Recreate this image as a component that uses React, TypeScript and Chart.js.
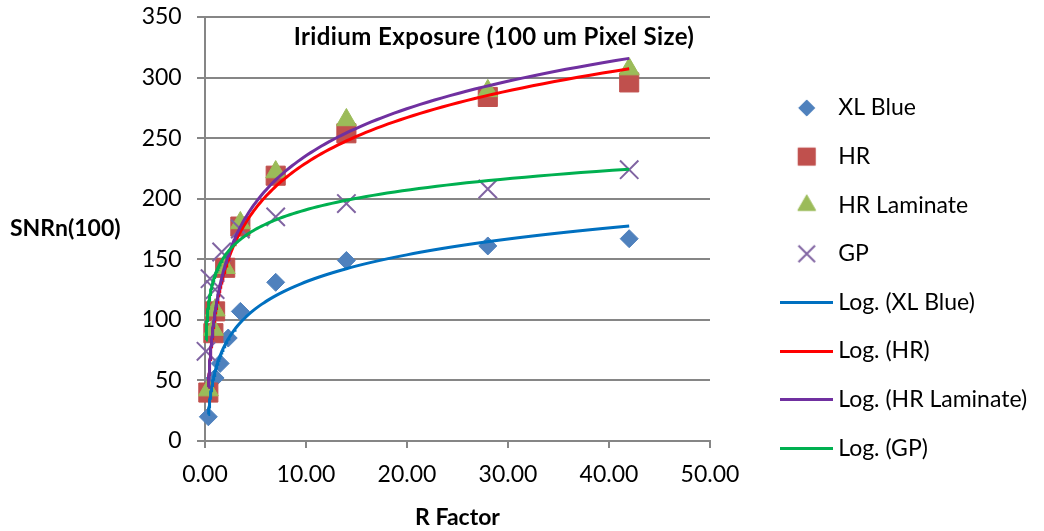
import React, { useEffect, useRef } from "react";
import { Chart, registerables } from "chart.js";
import { drawPoint } from "chart.js/helpers";

Chart.register(...registerables);

// ---------- data ----------
const seriesNames = ["XL Blue", "HR", "HR Laminate", "GP"];
const trendNames = ["Log. (XL Blue)", "Log. (HR)", "Log. (HR Laminate)", "Log. (GP)"];

const xlBlueX = [0.33, 1.0, 1.5, 2.3, 3.5, 7, 14, 28, 42];
const xlBlueY = [20, 52, 64, 85, 107, 131, 149, 161, 167];

const hrX = [0.33, 0.83, 1.0, 2.0, 3.5, 7, 14, 28, 42];
const hrY = [40, 89, 107, 143, 177, 219, 254, 284, 296];

const hrLamX = [0.33, 0.83, 1.0, 2.0, 3.5, 7, 14, 28, 42];
const hrLamY = [42, 92, 108, 143, 180, 222, 265, 289, 307];

const gpX = [0.1, 0.5, 1.0, 1.65, 3.5, 7, 14, 28, 42];
const gpY = [74, 134, 125, 156, 175, 185, 196, 208, 224];

const xTickMin = 0;
const xTickMax = 50;
const xTickStep = 10;
const yTickMin = 0;
const yTickMax = 350;
const yTickStep = 50;

const chartTitle = "Iridium Exposure (100 um Pixel Size)";
const yAxisTitle = "SNRn(100)";
const xAxisTitle = "R Factor";

// ---------- styles ----------
const markerColors = ["#4F81BD", "#C0504D", "#9BBB59", "#8064A2"];
const trendColors = ["#0070C0", "#FF0000", "#7030A0", "#00B050"];
const markerStyles = ["rectRot", "rect", "triangle", "crossRot"];
const markerRadius = [9, 13.5, 11.5, 13];
const markerBorder = [1, 1, 1, 2];
const FONT = "Lato";
const LEGEND_FONT_SIZE = 23;
const LEGEND_PAD = 25.6;
const LEGEND_BOX = 40;

// log regression (Excel "Logarithmic" trendline): y = a ln(x) + b
function logFit(xs: number[], ys: number[]) {
  const lx = xs.map((v) => Math.log(v));
  const n = xs.length;
  const mx = lx.reduce((s, v) => s + v, 0) / n;
  const my = ys.reduce((s, v) => s + v, 0) / n;
  let sxy = 0;
  let sxx = 0;
  for (let i = 0; i < n; i++) {
    sxy += (lx[i] - mx) * (ys[i] - my);
    sxx += (lx[i] - mx) * (lx[i] - mx);
  }
  const a = sxy / sxx;
  return { a, b: my - a * mx };
}

function trendCurve(xs: number[], ys: number[]) {
  const { a, b } = logFit(xs, ys);
  const lo = Math.log(Math.min(...xs));
  const hi = Math.log(Math.max(...xs));
  const pts: { x: number; y: number }[] = [];
  const steps = 150;
  for (let i = 0; i <= steps; i++) {
    const x = Math.exp(lo + ((hi - lo) * i) / steps);
    pts.push({ x, y: a * Math.log(x) + b });
  }
  return pts;
}

function toPoints(xs: number[], ys: number[]) {
  return xs.map((x, i) => ({ x, y: ys[i] }));
}

function markerIcon(i: number) {
  const c = document.createElement("canvas");
  c.width = 32;
  c.height = 32;
  const ctx = c.getContext("2d")!;
  ctx.fillStyle = markerColors[i];
  ctx.strokeStyle = markerColors[i];
  ctx.lineWidth = markerBorder[i];
  drawPoint(
    ctx,
    { pointStyle: markerStyles[i], radius: markerRadius[i] * 0.9, rotation: 0, borderWidth: markerBorder[i] } as any,
    16,
    16
  );
  return c;
}

function lineIcon(color: string) {
  const c = document.createElement("canvas");
  c.width = 53;
  c.height = 3;
  const ctx = c.getContext("2d")!;
  ctx.fillStyle = color;
  ctx.fillRect(0, 0, 53, 3);
  return c;
}

const textPlugin = {
  id: "extraText",
  afterDraw(chart: any) {
    const { ctx, chartArea } = chart;
    ctx.save();
    ctx.fillStyle = "#000";
    ctx.font = `bold 23px ${FONT}`;
    ctx.textBaseline = "middle";
    ctx.textAlign = "left";
    ctx.fillText(yAxisTitle, 10, (chartArea.top + chartArea.bottom) / 2);
    ctx.font = `bold 24px ${FONT}`;
    (ctx as any).letterSpacing = "0.4px";
    ctx.textAlign = "center";
    ctx.fillText(chartTitle, chartArea.left + 289, chartArea.top + 20);
    ctx.restore();
  },
};

export default function App() {
  const ref = useRef<HTMLCanvasElement | null>(null);

  useEffect(() => {
    document.body.style.margin = "0";
    const canvas = ref.current!;
    Chart.defaults.font.family = FONT;

    const mctx = document.createElement("canvas").getContext("2d")!;
    mctx.font = `${LEGEND_FONT_SIZE}px ${FONT}`;
    const maxText = Math.max(...[...seriesNames, ...trendNames].map((t) => mctx.measureText(t).width));
    const legendWidth = LEGEND_PAD + LEGEND_BOX + LEGEND_FONT_SIZE / 2 + maxText + 10;
    const legendLeft = 786.7 - LEGEND_PAD;
    const plotRight = 710;
    const padRight = 1044 - legendLeft - legendWidth;

    const xsList = [xlBlueX, hrX, hrLamX, gpX];
    const ysList = [xlBlueY, hrY, hrLamY, gpY];

    const icons: HTMLCanvasElement[] = [
      ...seriesNames.map((_, i) => markerIcon(i)),
      ...trendColors.map((c) => lineIcon(c)),
    ];

    const markerSets = seriesNames.map((name, i) => ({
      label: name,
      data: toPoints(xsList[i], ysList[i]),
      showLine: false,
      pointStyle: markerStyles[i],
      pointRadius: markerRadius[i],
      pointHoverRadius: markerRadius[i],
      pointBackgroundColor: markerColors[i],
      pointBorderColor: markerColors[i],
      pointBorderWidth: markerBorder[i],
      backgroundColor: markerColors[i],
      borderColor: markerColors[i],
      clip: false as any,
      order: 10 - i,
      xAxisID: "x",
      yAxisID: "y",
    }));

    const trendSets = trendNames.map((name, i) => ({
      label: name,
      data: trendCurve(xsList[i], ysList[i]),
      showLine: true,
      pointRadius: 0,
      pointHoverRadius: 0,
      borderColor: trendColors[i],
      backgroundColor: trendColors[i],
      borderWidth: 3,
      tension: 0,
      fill: false,
      clip: false as any,
      order: 5 - i,
      xAxisID: "x",
      yAxisID: "y",
    }));

    const chart = new Chart(canvas, {
      type: "scatter",
      data: { datasets: [...markerSets, ...trendSets] as any },
      options: {
        animation: false,
        responsive: false,
        events: [],
        layout: { padding: { top: 17, left: 0, bottom: 0, right: padRight } },
        scales: {
          x: {
            type: "linear",
            position: "bottom",
            min: xTickMin,
            max: xTickMax,
            afterFit: (s: any) => {
              s.height = 90;
            },
            ticks: {
              stepSize: xTickStep,
              padding: 13.2,
              color: "#000",
              font: { size: 23 },
              maxRotation: 0,
              callback: (v: any) => Number(v).toFixed(2),
            },
            grid: {
              drawOnChartArea: false,
              drawTicks: true,
              tickLength: 7,
              color: "#868686",
              lineWidth: 2,
            },
            border: { display: true, color: "#868686", width: 2 },
            title: {
              display: true,
              text: xAxisTitle,
              color: "#000",
              font: { size: 23, weight: "bold" },
              padding: { top: 0, bottom: 0 },
            },
          },
          y: {
            type: "linear",
            position: "left",
            min: yTickMin,
            max: yTickMax,
            afterFit: (s: any) => {
              s.width = 205;
              s.paddingTop = 0;
              s.paddingBottom = 0;
            },
            ticks: {
              stepSize: yTickStep,
              padding: 15.3,
              color: "#000",
              font: { size: 23 },
            },
            grid: {
              drawTicks: true,
              tickLength: 8,
              color: "#868686",
              lineWidth: 2,
            },
            border: { display: true, color: "#868686", width: 2 },
          },
          gap: {
            type: "linear",
            position: "right",
            display: true,
            afterFit: (s: any) => {
              s.width = legendLeft - plotRight;
              s.paddingTop = 0;
              s.paddingBottom = 0;
            },
            ticks: { display: false },
            grid: { display: false, drawTicks: false },
            border: { display: false },
          },
        },
        plugins: {
          tooltip: { enabled: false },
          legend: {
            position: "right",
            align: "start",
            maxWidth: 600,
            title: {
              display: true,
              text: "",
              font: { size: 12, lineHeight: 1.2 },
              padding: { top: 39.5, bottom: 0 },
            },
            labels: {
              usePointStyle: true,
              pointStyleWidth: LEGEND_BOX,
              padding: LEGEND_PAD,
              color: "#000",
              font: { size: LEGEND_FONT_SIZE },
              generateLabels: (ch: any) =>
                ch.data.datasets.map((ds: any, i: number) => ({
                  text: ds.label,
                  pointStyle: icons[i],
                  fillStyle: "rgba(0,0,0,0)",
                  strokeStyle: "rgba(0,0,0,0)",
                  lineWidth: 0,
                  hidden: false,
                  datasetIndex: i,
                  fontColor: "#000",
                })),
            },
          },
        },
      } as any,
      plugins: [textPlugin],
    });

    return () => chart.destroy();
  }, []);

  return (
    <div style={{ position: "absolute", left: 0, top: 0, width: 1044, height: 531, background: "#fff" }}>
      <canvas ref={ref} width={1044} height={531} style={{ display: "block" }} />
    </div>
  );
}
